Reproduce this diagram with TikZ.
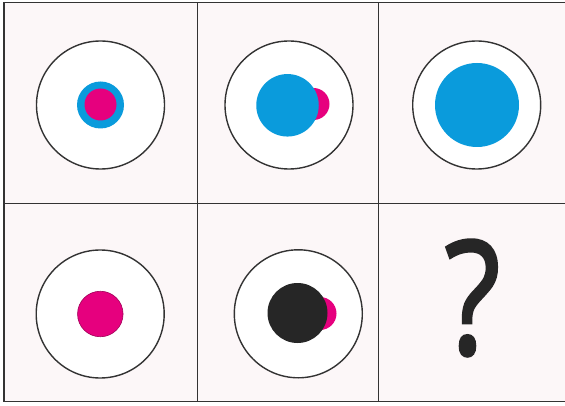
\documentclass[tikz,border=0pt]{standalone}
\usepackage{fontspec}
\setmainfont{Open Sans}
\newfontfamily\qfont[FakeBold=1.8]{Open Sans}
\definecolor{cellbg}{HTML}{FCF7F8}
\definecolor{gridc}{HTML}{333333}
\definecolor{cblue}{HTML}{0A9BDC}
\definecolor{cmag}{HTML}{E6007E}
\definecolor{cdark}{HTML}{262626}
\begin{document}
\begin{tikzpicture}[x=1pt,y=-1pt,
  ring/.style={circle,draw=gridc,line width=1.4pt,fill=white,inner sep=0pt,minimum size=128pt},
  dot/.style={circle,inner sep=0pt,draw=none,minimum size=#1},
  gridline/.style={draw=gridc,line width=1.6pt}]
\useasboundingbox (0,0) rectangle (565,406);
\fill[cellbg] (4,2.5) rectangle (565,401.5);
% grid
\coordinate (tl) at (4,2.5);
\coordinate (tr) at (565,2.5);
\coordinate (ml) at (4,203.5);
\coordinate (mr) at (565,203.5);
\coordinate (bl) at (4,401.5);
\coordinate (br) at (565,401.5);
\coordinate (v1t) at (197.5,2.5);
\coordinate (v1b) at (197.5,401.5);
\coordinate (v2t) at (378.5,2.5);
\coordinate (v2b) at (378.5,401.5);
\draw[gridline] (tl) -- (tr);
\draw[gridline] (ml) -- (mr);
\draw[gridline] (bl) -- (br);
\draw[gridline] (tl) -- (bl);
\draw[gridline] (v1t) -- (v1b);
\draw[gridline] (v2t) -- (v2b);
% cell 1
\node[ring] (r1) at (100.5,105) {};
\node[dot=47pt,fill=cblue] (b1) at (100.5,105) {};
\node[dot=32pt,fill=cmag] (m1) at (100.5,104.5) {};
% cell 2
\node[ring] (r2) at (289,105) {};
\node[dot=32pt,fill=cmag] (m2) at (313.5,104) {};
\node[dot=62.5pt,fill=cblue] (b2) at (287.5,105.3) {};
% cell 3
\node[ring] (r3) at (476.7,105) {};
\node[dot=84pt,fill=cblue] (b3) at (477,105) {};
% cell 4
\node[ring] (r4) at (100.2,314) {};
\node[dot=45.5pt,fill=cmag,draw=cmag!70!black,line width=0.6pt] (m4) at (100.3,314) {};
% cell 5
\node[ring] (r5) at (298.3,313.8) {};
\node[dot=33pt,fill=cmag] (m5) at (320,313.5) {};
\node[dot=60pt,fill=cdark] (k5) at (297.5,313) {};
% cell 6
\node[font=\fontsize{158}{158}\selectfont\qfont,text=cdark,inner sep=0pt] (q) at (472.5,298) {\scalebox{0.82}[1]{?}};
\end{tikzpicture}
\end{document}
